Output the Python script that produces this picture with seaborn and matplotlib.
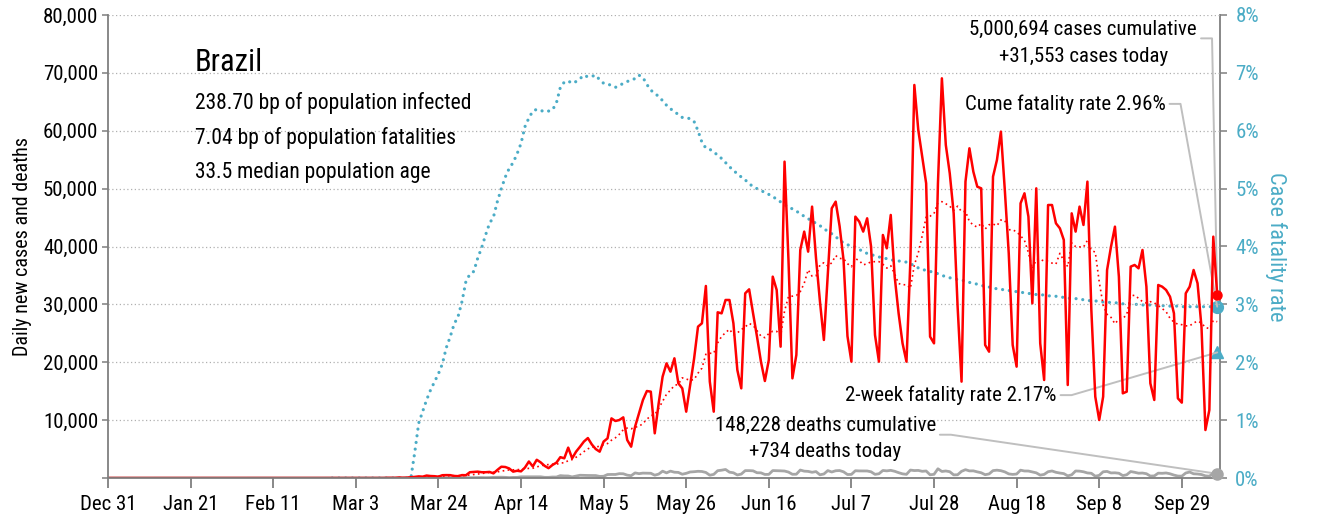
import numpy as np
import pandas as pd
import matplotlib
matplotlib.use('Agg')
import matplotlib.pyplot as plt
import matplotlib.dates as mdates
from matplotlib.lines import Line2D
from matplotlib.transforms import IdentityTransform
import seaborn as sns

# ──────────────────────────────────────────────────────────────
# Datos: Brasil, casos / muertes diarias
# ──────────────────────────────────────────────────────────────
FECHA_INICIO = '2019-12-31'
FECHA_FIN = '2020-10-08'
CASOS_DESDE = '2020-02-26'
MUERTES_DESDE = '2020-03-18'

casos_diarios = [
    1, 0, 0, 1, 0, 1, 0, 0, 5, 5,
    0, 6, 6, 0, 25, 21, 23, 79, 34, 57, 137,
    190, 280, 230, 420, 340, 310, 230, 480, 500, 490, 350, 320, 500, 480,
    1000, 1050, 1100, 1000, 1000, 1050, 800, 1400,
    1950, 1900, 1650, 1100, 1250, 1150, 1800, 2850, 2000, 3150,
    2700, 2100, 1700, 2250, 2650, 3600, 3400, 5250, 3400, 4550,
    5400, 6300, 6900, 5800, 5000, 4550, 6300, 6850, 10300, 9850,
    10020, 10480, 6570, 5410, 8870, 11170, 13480, 15030, 14920, 7720,
    12900, 17510, 19810, 18370, 20680, 16360, 15490, 11460, 16070, 20600,
    26150, 26730, 33180, 16650, 11460, 28630, 28450, 30760, 30760, 26730,
    18660, 15490, 31910, 32600, 28450, 24420, 20100, 16760, 20390, 34790,
    32490, 22690, 54660, 37670, 17220, 21250, 39400, 42570, 39110, 46890,
    38000, 30500, 23850, 35370, 46600, 47750, 43500, 37670, 24500, 20100,
    45160, 44290, 42570, 44870, 39970, 24710, 20100, 41990, 39690, 45450,
    34790, 28450, 23270, 20100, 37670, 67910, 60130, 55530, 50920, 24420,
    23270, 50920, 69060, 57540, 52650, 45730, 29610, 16650, 51210, 56970,
    52930, 50340, 50050, 22980, 21830, 52070, 54950, 59850, 49770, 38820,
    22980, 19240, 47460, 49190, 45160, 30180, 50050, 23270, 16930, 47170,
    47170, 44010, 43140, 41130, 16070, 45730, 42570, 46890, 43720, 51210,
    29030, 14050, 10020, 14050, 35940, 39970, 43430, 34790, 14630, 14920,
    36520, 36810, 36230, 39400, 33060, 16360, 13480, 33350, 33060, 32490,
    31330, 28450, 13770, 13020, 31910, 33060, 35940, 33640, 26150, 8290,
    11750, 41700, 31553,
]

muertes_diarias = [
    1, 2, 3, 1, 7, 7, 9, 12, 13, 15, 22, 22, 23, 42,
    40, 58, 60, 73, 54, 67, 114, 133, 141, 115, 68, 99, 105, 204,
    204, 188, 217, 213, 206, 115, 113, 166, 165, 407, 357, 346, 189, 338,
    474, 449, 435, 428, 421, 275, 296, 600, 615, 610, 751, 730, 496, 396,
    881, 749, 844, 824, 816, 485, 674, 1179, 888, 1188, 1001, 965, 653, 807,
    1039, 1086, 1156, 1124, 956, 480, 623, 1262, 1349, 1473, 1005, 904, 525, 679,
    1272, 1274, 1239, 909, 892, 612, 627, 1282, 1269, 1238, 1206, 1022, 641, 654,
    1374, 1185, 1141, 990, 1109, 552, 692, 1280, 1038, 1252, 1290, 1071, 602, 620,
    1254, 1223, 1220, 1214, 1071, 631, 733, 1300, 1233, 1322, 1163, 921, 716, 632,
    1367, 1284, 1311, 1156, 1211, 555, 632, 1595, 1129, 1212, 1088, 541, 561, 1154,
    1437, 1226, 1237, 1060, 905, 572, 703, 1274, 1352, 1262, 1060, 709, 620, 684,
    1352, 1212, 1204, 1054, 892, 494, 620, 1085, 1215, 984, 855, 758, 366, 553,
    1215, 1184, 1075, 874, 814, 310, 455, 1075, 1136, 874, 899, 821, 415, 561,
    1113, 987, 829, 858, 739, 335, 363, 836, 809, 869, 729, 503, 335, 317,
    863, 1031, 728, 692, 599, 366, 310, 819, 734,
]

# tasa de letalidad acumulada (%), desde la primera muerte
letalidad_pct = [
    0.45, 0.95, 1.15, 1.35, 1.52, 1.66, 1.80, 1.97, 2.25, 2.44,
    2.66, 2.79, 3.05, 3.40, 3.52, 3.57, 3.80, 3.98, 4.20, 4.40,
    4.51, 4.78, 5.00, 5.20, 5.35, 5.45, 5.60, 5.78, 6.07, 6.22,
    6.34, 6.37, 6.35, 6.33, 6.34, 6.36, 6.48, 6.75, 6.84, 6.86,
    6.82, 6.85, 6.90, 6.96, 6.93, 6.94, 6.96, 6.88, 6.82, 6.81,
    6.78, 6.75, 6.78, 6.82, 6.85, 6.88, 6.90, 6.96, 6.92, 6.80,
    6.70, 6.65, 6.59, 6.52, 6.44, 6.38, 6.33, 6.28, 6.23, 6.22,
    6.21, 6.16, 6.00, 5.80, 5.70, 5.68, 5.63, 5.58, 5.52, 5.45,
    5.38, 5.31, 5.26, 5.20, 5.15, 5.09, 5.03, 5.00, 4.97, 4.93,
    4.90, 4.86, 4.82, 4.77, 4.72, 4.68, 4.65, 4.61, 4.57, 4.52,
    4.48, 4.44, 4.40, 4.36, 4.31, 4.26, 4.22, 4.17, 4.11, 4.06,
    4.03, 4.01, 3.99, 3.95, 3.91, 3.88, 3.86, 3.84, 3.82, 3.80,
    3.79, 3.77, 3.76, 3.75, 3.74, 3.73, 3.70, 3.67, 3.63, 3.60,
    3.59, 3.57, 3.55, 3.53, 3.50, 3.48, 3.46, 3.44, 3.43, 3.42,
    3.40, 3.38, 3.36, 3.35, 3.33, 3.31, 3.30, 3.28, 3.27, 3.26,
    3.25, 3.24, 3.23, 3.22, 3.21, 3.20, 3.19, 3.18, 3.17, 3.17,
    3.16, 3.15, 3.14, 3.14, 3.13, 3.12, 3.11, 3.10, 3.10, 3.09,
    3.08, 3.07, 3.06, 3.06, 3.05, 3.04, 3.04, 3.03, 3.03, 3.02,
    3.01, 3.01, 3.00, 3.00, 3.00, 2.99, 2.99, 2.99, 2.98, 2.98,
    2.98, 2.97, 2.97, 2.97, 2.97, 2.96, 2.96, 2.96, 2.96, 2.96,
    2.96, 2.96, 2.96, 2.96, 2.96,
]
letalidad_2sem_pct = 2.17

PAIS = 'Brazil'
LINEAS_INFO = ['238.70 bp of population infected',
               '7.04 bp of population fatalities',
               '33.5 median population age']
TXT_CASOS = ['5,000,694 cases cumulative', '+31,553 cases today']
TXT_MUERTES = ['148,228 deaths cumulative', '+734 deaths today']
TXT_CUME = 'Cume fatality rate 2.96%'
TXT_2SEM = '2-week fatality rate 2.17%'

ROJO = '#ff0000'
TEAL = '#4bacc6'
GRIS = '#a6a6a6'
EJE = '#7f7f7f'
GUIA = '#bfbfbf'

# ──────────────────────────────────────────────────────────────
fechas = pd.date_range(FECHA_INICIO, FECHA_FIN, freq='D')
s_casos = pd.Series(casos_diarios, index=pd.date_range(CASOS_DESDE, periods=len(casos_diarios)))
s_muertes = pd.Series(muertes_diarias, index=pd.date_range(MUERTES_DESDE, periods=len(muertes_diarias)))
s_cfr = pd.Series(letalidad_pct, index=pd.date_range(MUERTES_DESDE, periods=len(letalidad_pct)))
assert s_casos.index[-1] == fechas[-1] and s_muertes.index[-1] == fechas[-1] and s_cfr.index[-1] == fechas[-1]

df = pd.DataFrame({'fecha': fechas})
df['casos'] = s_casos.reindex(fechas, fill_value=0).values
df['muertes'] = s_muertes.reindex(fechas, fill_value=0).values
df['media7'] = df['casos'].rolling(7, min_periods=1).mean()
df_cfr = pd.DataFrame({'fecha': s_cfr.index, 'cfr': s_cfr.values})
df_cfr = pd.concat([pd.DataFrame({'fecha': pd.date_range(CASOS_DESDE, MUERTES_DESDE, inclusive='left'), 'cfr': 0.0}), df_cfr])

sns.set_theme(style='white')
plt.rcParams['font.family'] = ['Roboto Condensed', 'Archivo Narrow', 'DejaVu Sans']
plt.rcParams['text.color'] = 'black'
plt.rcParams['xtick.labelcolor'] = 'black'
plt.rcParams['ytick.labelcolor'] = 'black'
plt.rcParams['axes.labelcolor'] = 'black'

fig = plt.figure(figsize=(13.19, 5.2), dpi=100)
ax = fig.add_axes([108 / 1319, 1 - 478 / 520, 1112 / 1319, 463 / 520])
ax2 = ax.twinx()
ax.set_zorder(ax2.get_zorder() + 1)
ax.patch.set_visible(False)

sns.lineplot(data=df_cfr, x='fecha', y='cfr', ax=ax2, color=TEAL, lw=2.3,
             linestyle=(0, (0.01, 2.1)), dash_capstyle='round')
sns.lineplot(data=df, x='fecha', y='muertes', ax=ax, color=GRIS, lw=2)
sns.lineplot(data=df, x='fecha', y='media7', ax=ax, color=ROJO, lw=1.2,
             linestyle=(0, (1, 2)))
sns.lineplot(data=df, x='fecha', y='casos', ax=ax, color=ROJO, lw=1.8)

ultimo = df.iloc[-1]
ax.plot([ultimo['fecha']], [ultimo['casos']], 'o', color=ROJO, ms=6.5, clip_on=False, zorder=5)
ax.plot([ultimo['fecha']], [ultimo['muertes']], 'o', color=GRIS, ms=8, clip_on=False, zorder=5)
ax2.plot([ultimo['fecha']], [letalidad_pct[-1]], 'o', color=TEAL, ms=8.5, clip_on=False, zorder=5)
ax2.plot([ultimo['fecha']], [letalidad_2sem_pct], '^', color=TEAL, ms=9, clip_on=False, zorder=5)

# ejes
ax.set_xlim(pd.Timestamp(FECHA_INICIO), pd.Timestamp(FECHA_FIN) + pd.Timedelta(hours=17))
ticks_x = pd.date_range(FECHA_INICIO, periods=14, freq='21D')
ax.set_xticks(ticks_x)
ax.set_xticklabels([f'{d:%b} {d.day}' for d in ticks_x])
ax.set_ylim(0, 80000)
ax.set_yticks(range(0, 80001, 10000))
ax.set_yticklabels([''] + [f'{v:,}' for v in range(10000, 80001, 10000)])
ax2.set_ylim(0, 8)
ax2.set_yticks(range(0, 9))
ax2.set_yticklabels([f'{v}%' for v in range(0, 9)])

ax.yaxis.grid(True, color='#b0b0b0', lw=0.9, linestyle=(0, (1, 2)))
ax.xaxis.grid(False)
ax2.grid(False)

for s in ['top', 'right']:
    ax.spines[s].set_visible(False)
for s in ['left', 'bottom']:
    ax.spines[s].set_color(EJE)
    ax.spines[s].set_linewidth(1.3)
for s in ['top', 'left', 'bottom']:
    ax2.spines[s].set_visible(False)
ax2.spines['right'].set_color(EJE)
ax2.spines['right'].set_linewidth(1.3)

ax.tick_params(axis='x', direction='out', length=7, width=1.3, color=EJE, labelsize=15, pad=5, bottom=True)
ax.tick_params(axis='y', direction='out', length=4, width=1.1, color=EJE, labelsize=15, pad=3, left=True)
ax2.tick_params(axis='y', direction='out', length=5, width=1.1, color=EJE, labelsize=15,
                labelcolor=TEAL, pad=6, right=True)

ax.set_xlabel('')
ax.set_ylabel('Daily new cases and deaths', fontsize=14.5, labelpad=8)
ax2.set_ylabel('Case fatality rate', fontsize=16, color=TEAL, rotation=270, labelpad=20)

# textos
ax.text(0.078, 0.898, PAIS, transform=ax.transAxes, fontsize=22, va='center', ha='left')
for i, linea in enumerate(LINEAS_INFO):
    ax.text(0.078, 0.81 - i * 0.0756, linea, transform=ax.transAxes, fontsize=15.5, va='center', ha='left')

t_casos = ax.text(0.877, 0.968, TXT_CASOS[0], transform=ax.transAxes, fontsize=15, va='center', ha='center')
ax.text(0.877, 0.911, TXT_CASOS[1], transform=ax.transAxes, fontsize=15, va='center', ha='center')
t_cume = ax.text(0.951, 0.808, TXT_CUME, transform=ax.transAxes, fontsize=15, va='center', ha='right')
t_2sem = ax.text(0.758, 0.179, TXT_2SEM, transform=ax.transAxes, fontsize=15, va='center', ha='center')
t_muertes = ax.text(0.645, 0.114, TXT_MUERTES[0], transform=ax.transAxes, fontsize=15, va='center', ha='center')
ax.text(0.645, 0.058, TXT_MUERTES[1], transform=ax.transAxes, fontsize=15, va='center', ha='center')

# líneas guía desde cada texto hasta su punto final
fig.canvas.draw()
rend = fig.canvas.get_renderer()
x_fin = mdates.date2num(ultimo['fecha'])


def guia(txt, frac, eje, y):
    bb = txt.get_window_extent(rend)
    x0 = bb.x1 + 4
    y0 = bb.y0 + frac * bb.height
    px, py = eje.transData.transform((x_fin, y))
    fig.add_artist(Line2D([x0, x0 + 11, px], [y0, y0, py], transform=IdentityTransform(),
                          color=GUIA, lw=1.4, zorder=1))


guia(t_casos, 0.05, ax, ultimo['casos'])
guia(t_cume, 0.5, ax2, letalidad_pct[-1])
guia(t_2sem, 0.5, ax2, letalidad_2sem_pct)
guia(t_muertes, 0.0, ax, ultimo['muertes'])

fig.savefig('out.png', dpi=100)
